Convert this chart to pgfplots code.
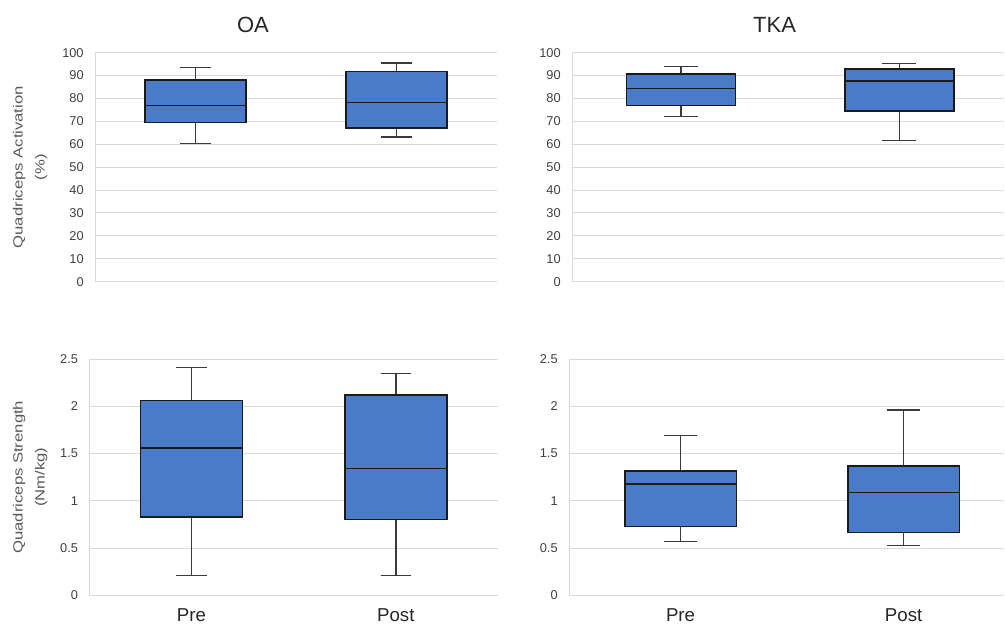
\documentclass[border=0pt]{standalone}
\usepackage{fontspec}
\setmainfont{Liberation Sans}
\usepackage{pgfplots}
\pgfplotsset{compat=1.18}
\usepgfplotslibrary{statistics}
\usepackage{graphicx}
\definecolor{boxfill}{HTML}{4A7BC9}
\definecolor{boxedge}{HTML}{1A1A1A}
\definecolor{whisk}{HTML}{3A3A3A}
\definecolor{gridc}{HTML}{D9D9D9}
\definecolor{tickc}{HTML}{404040}
\definecolor{labc}{HTML}{595959}
\pgfplotsset{
  bx/.style={
    scale only axis,
    axis x line*=bottom, axis y line*=left,
    axis line style={-, draw=gridc, line width=0.75pt},
    ymajorgrids, grid style={draw=gridc, line width=0.75pt},
    major tick length=0pt,
    xtick={1,2},
    ymin=0,
    yticklabel style={font=\fontsize{9.6}{11}\selectfont, text=tickc, xshift=-5pt},
    xticklabel style={font=\fontsize{14}{16}\selectfont, text=black!85, anchor=base, yshift=-19.8pt},
    /pgf/number format/assume math mode=true,
    ylabel style={font=\fontsize{10}{12}\selectfont, text=labc, anchor=center},
    clip=false,
    boxplot/draw direction=y,
  },
  bp/.style={draw=boxedge, fill=boxfill, line width=1.15pt,
    boxplot/every whisker/.style={draw=whisk, line width=1pt},
    boxplot/every median/.style={draw=boxedge, line width=1.15pt}},
}
\begin{document}
\begin{tikzpicture}
\useasboundingbox (0,0) rectangle (753.75pt,470.25pt);
% Top left: OA activation
\begin{axis}[bx, at={(71.25pt,258.98pt)}, anchor=south west,
  width=301.5pt, height=171.75pt, xmin=0.5, xmax=2.5, ymax=100,
  ytick={0,10,20,30,40,50,60,70,80,90,100}, xticklabels={},
  ylabel={\scalebox{1.25}[1]{\begin{tabular}{@{}c@{}}Quadriceps Activation\\[4.5pt](\%)\end{tabular}}},
  ylabel style={at={(axis description cs:-0.1604,0.5)}}]
\addplot[bp, boxplot prepared={lower whisker=60.4, lower quartile=69.6, median=76.9, upper quartile=88.1, upper whisker=93.4, draw position=1, box extend=0.5, whisker extend=0.155}] coordinates {};
\addplot[bp, boxplot prepared={lower whisker=63.2, lower quartile=67.0, median=78.2, upper quartile=91.7, upper whisker=95.5, draw position=2, box extend=0.5, whisker extend=0.155}] coordinates {};
\node[anchor=base, font=\fontsize{16.5}{19}\selectfont, text=black!85, yshift=14.8pt] at (rel axis cs:0.393,1) {OA};
\end{axis}
% Top right: TKA activation
\begin{axis}[bx, at={(429pt,258.98pt)}, anchor=south west,
  width=324pt, height=171.75pt, xmin=0.5, xmax=2.48, ymax=100,
  ytick={0,10,20,30,40,50,60,70,80,90,100}, xticklabels={}]
\addplot[bp, boxplot prepared={lower whisker=72.2, lower quartile=77.0, median=84.4, upper quartile=90.8, upper whisker=94.0, draw position=1, box extend=0.5, whisker extend=0.155}] coordinates {};
\addplot[bp, boxplot prepared={lower whisker=61.7, lower quartile=74.5, median=87.6, upper quartile=92.9, upper whisker=95.2, draw position=2, box extend=0.5, whisker extend=0.155}] coordinates {};
\node[anchor=base, font=\fontsize{16.5}{19}\selectfont, text=black!85, yshift=14.8pt] at (rel axis cs:0.4688,1) {TKA};
\end{axis}
% Bottom left: OA strength
\begin{axis}[bx, at={(67pt,23.78pt)}, anchor=south west,
  width=306.5pt, height=177.2pt, xmin=0.5, xmax=2.5, ymax=2.5,
  ytick={0,0.5,1,1.5,2,2.5}, xticklabels={Pre,Post},
  ylabel={\scalebox{1.25}[1]{\begin{tabular}{@{}c@{}}Quadriceps Strength\\[4.5pt](Nm/kg)\end{tabular}}},
  ylabel style={at={(axis description cs:-0.1439,0.5)}}]
\addplot[bp, boxplot prepared={lower whisker=0.21, lower quartile=0.83, median=1.56, upper quartile=2.06, upper whisker=2.41, draw position=1, box extend=0.5, whisker extend=0.15}] coordinates {};
\addplot[bp, boxplot prepared={lower whisker=0.21, lower quartile=0.80, median=1.34, upper quartile=2.12, upper whisker=2.35, draw position=2, box extend=0.5, whisker extend=0.15}] coordinates {};
\end{axis}
% Bottom right: TKA strength
\begin{axis}[bx, at={(426.75pt,23.78pt)}, anchor=south west,
  width=326.25pt, height=177.2pt, xmin=0.5, xmax=2.45, ymax=2.5,
  ytick={0,0.5,1,1.5,2,2.5}, xticklabels={Pre,Post}]
\addplot[bp, boxplot prepared={lower whisker=0.567, lower quartile=0.726, median=1.175, upper quartile=1.315, upper whisker=1.69, draw position=1, box extend=0.5, whisker extend=0.15}] coordinates {};
\addplot[bp, boxplot prepared={lower whisker=0.53, lower quartile=0.662, median=1.086, upper quartile=1.368, upper whisker=1.96, draw position=2, box extend=0.5, whisker extend=0.15}] coordinates {};
\end{axis}
\end{tikzpicture}
\end{document}
